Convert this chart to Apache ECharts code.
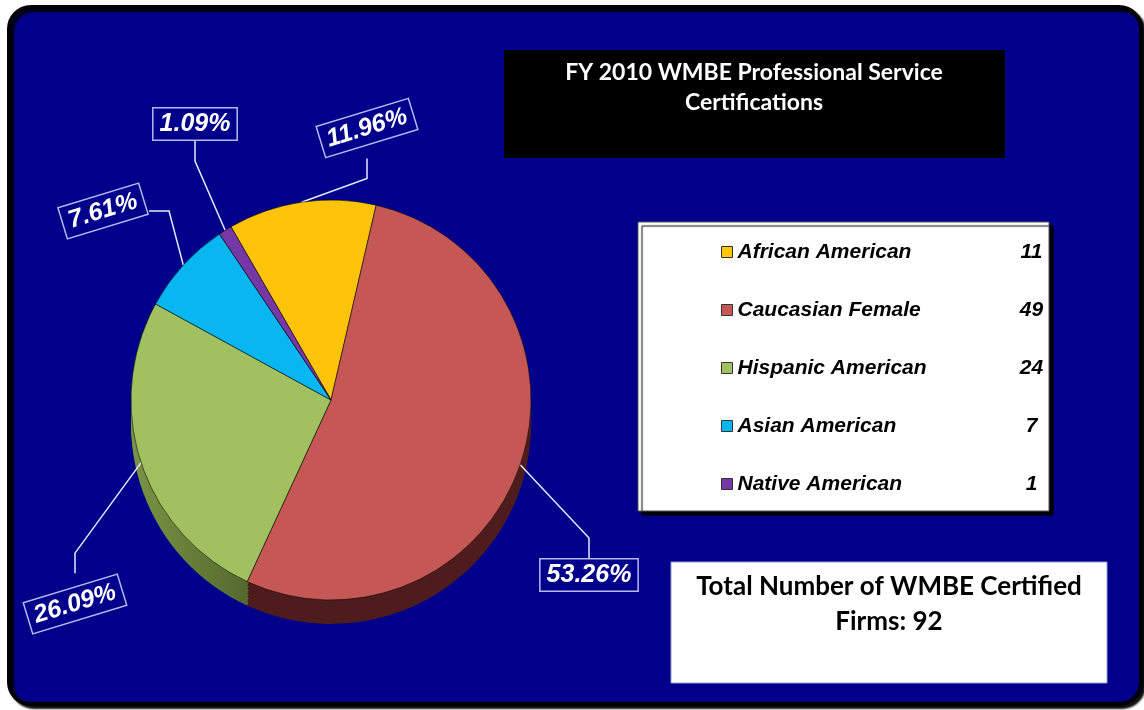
<!DOCTYPE html>
<html><head><meta charset="utf-8">
<script src="https://cdn.jsdelivr.net/npm/echarts@6/dist/echarts.min.js"></script>
<style>html,body{margin:0;padding:0;background:#fff}#c{width:1144px;height:710px}</style>
</head><body><div id="c"></div><script>
// ---- data ----
const categories = ['African American', 'Caucasian Female', 'Hispanic American', 'Asian American', 'Native American'];
const counts = [11, 49, 24, 7, 1];
const titleLines = ['FY 2010 WMBE Professional Service', 'Certifications'];
const totalLabel = 'Total Number of WMBE Certified';

// ---- styles ----
const topColors = ['#FFC40A', '#C55855', '#A1C060', '#08B6F1', '#7638A6'];
const sideColors = ['#8A6800', '#4E1C1C',
  {type:'linear', x:0, y:0, x2:1, y2:0, colorStops:[{offset:0,color:'#7A9444'},{offset:1,color:'#3A4A20'}]},
  '#00607F', '#3C1858'];
const labelPos = [[367,128,17],[589,575,0],[75,604,17],[103,211,17],[195,124,0]];
const NAVY = '#00008B';
const ARIAL = '"Liberation Sans", Arial, sans-serif';
const CAL = 'Lato, "Open Sans", sans-serif';
const CX = 331, CY = 400, R = 200, DEPTH = 24;

const total = counts.reduce((a, b) => a + b, 0);
const pieData = categories.map((n, i) => ({name: n, value: counts[i], itemStyle: {color: topColors[i]}}));
const sideData = categories.map((n, i) => ({name: n, value: counts[i], itemStyle: {color: sideColors[i]}}));

const series = [{
  type: 'pie', name: 'top', z: 10,
  center: [CX, CY], radius: R, startAngle: 120, clockwise: true,
  avoidLabelOverlap: false,
  data: pieData,
  itemStyle: {borderColor: 'rgba(0,0,0,0.55)', borderWidth: 1},
  emphasis: {disabled: true},
  label: {
    show: true, formatter: p => (p.value / total * 100).toFixed(2) + '%',
    color: '#fff', fontSize: 25, fontWeight: 'bold', fontStyle: 'italic',
    fontFamily: ARIAL, backgroundColor: NAVY, borderColor: '#B8B8F0', borderWidth: 1.5, padding: [4, 6, 2, 6]
  },
  labelLine: {show: true, length: 20, length2: 20, lineStyle: {color: '#E8E8FF', width: 1.5}},
  labelLayout: function (p) {
    const q = labelPos[p.dataIndex];
    return {x: q[0], y: q[1], rotate: q[2], align: 'center', verticalAlign: 'middle'};
  }
}];
for (let k = DEPTH; k > 0; k -= 4) {
  series.push({
    type: 'pie', name: 'side' + k, z: 2, silent: true,
    center: [CX, CY + k], radius: R, startAngle: 120, clockwise: true,
    data: sideData, label: {show: false}, labelLine: {show: false},
    emphasis: {disabled: true}, legendHoverLink: false
  });
}

const chart = echarts.init(document.getElementById('c'), null, {renderer: 'canvas'});
chart.setOption({
  animation: false,
  legend: {
    orient: 'vertical', left: 721, top: 240, padding: 0, itemWidth: 11, itemHeight: 11, itemGap: 34,
    icon: 'rect', selectedMode: false, data: categories, z: 6,
    itemStyle: {borderColor: '#333', borderWidth: 1},
    formatter: name => `{n|${name}}{v|${counts[categories.indexOf(name)]}}`,
    textStyle: {
      color: '#000', fontSize: 21, fontWeight: 'bold', fontStyle: 'italic', fontFamily: ARIAL, lineHeight: 24,
      rich: {
        n: {width: 270, color: '#000', fontSize: 21, fontWeight: 'bold', fontStyle: 'italic', fontFamily: ARIAL},
        v: {width: 48, align: 'center', color: '#000', fontSize: 21, fontWeight: 'bold', fontStyle: 'italic', fontFamily: ARIAL}
      }
    }
  },
  graphic: [
    {type: 'rect', z: -10, shape: {x: 9, y: 7, width: 1132, height: 697, r: 22},
      style: {fill: NAVY, stroke: '#000', lineWidth: 4, shadowColor: 'rgba(0,0,0,0.9)', shadowOffsetX: 3, shadowOffsetY: 3, shadowBlur: 2}},
    {type: 'rect', z: 1, shape: {x: 504, y: 50, width: 501, height: 108}, style: {fill: '#000'}},
    {type: 'text', z: 1, style: {text: titleLines.join('\n'), x: 754, y: 58, align: 'center', verticalAlign: 'top',
      fill: '#fff', font: 'bold 23px ' + CAL, lineHeight: 30}},
    {type: 'rect', z: 3, shape: {x: 638, y: 222, width: 411, height: 289},
      style: {fill: '#fff', stroke: '#555', lineWidth: 1, shadowColor: '#000', shadowOffsetX: 4, shadowOffsetY: 4, shadowBlur: 1}},
    {type: 'rect', z: 1, shape: {x: 671, y: 562, width: 436, height: 121}, style: {fill: '#fff', stroke: '#9999CC', lineWidth: 1}},
    {type: 'text', z: 2, style: {text: totalLabel + '\nFirms: ' + total, x: 889, y: 569, align: 'center', verticalAlign: 'top',
      fill: '#000', font: 'bold 26px ' + CAL, lineHeight: 35}}
  ],
  series: series
});
</script></body></html>
